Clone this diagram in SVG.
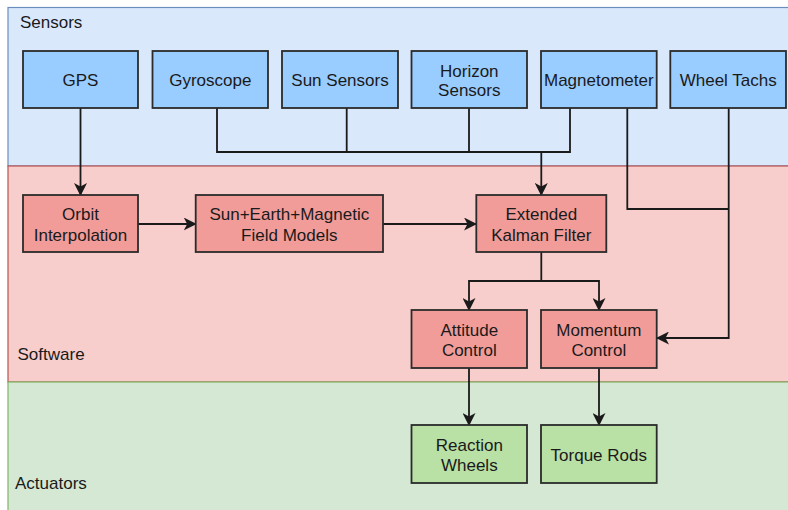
<svg xmlns="http://www.w3.org/2000/svg" width="788" height="510" viewBox="0 0 788 510">
<style>
text{font-family:"Liberation Sans",Arial,sans-serif;font-size:17px;fill:#1a1a1a}
.n text{text-anchor:middle}
.node{stroke:#2b2b2b;stroke-width:1.8}
.sen{fill:#99ccff}
.sw{fill:#f19c99}
.act{fill:#b9e0a5}
.c{fill:none;stroke:#1a1a1a;stroke-width:1.8}
</style>
<defs>
<marker id="ah" viewBox="0 0 13 13" refX="12" refY="6.5" markerWidth="13" markerHeight="13" markerUnits="userSpaceOnUse" orient="auto">
<path d="M0,0 L13,6.5 L0,13 L3.5,6.5 Z" fill="#1a1a1a"/>
</marker>
</defs>
<rect width="788" height="510" fill="#fff"/>
<g id="lanes">
<rect x="8" y="7.5" width="790" height="158.5" fill="#dae8fc" stroke="#6c8ebf" stroke-width="1.2"/>
<rect x="8" y="166" width="790" height="216" fill="#f8cecc" stroke="#b85450" stroke-width="1.2"/>
<rect x="8" y="382" width="790" height="140" fill="#d5e8d4" stroke="#82b366" stroke-width="1.2"/>
<text x="20" y="28">Sensors</text>
<text x="17.5" y="360">Software</text>
<text x="15" y="489">Actuators</text>
</g>
<g id="connectors">
<path class="c" d="M80.5,108 V195" marker-end="url(#ah)"/>
<path class="c" d="M217,108 V152 H570 V108"/>
<path class="c" d="M346.7,108 V152"/>
<path class="c" d="M469,108 V152"/>
<path class="c" d="M541.3,152 V195" marker-end="url(#ah)"/>
<path class="c" d="M627.3,108 V209 H728.7"/>
<path class="c" d="M728.7,108 V338 H657" marker-end="url(#ah)"/>
<path class="c" d="M138,224 H195.7" marker-end="url(#ah)"/>
<path class="c" d="M383,224 H476" marker-end="url(#ah)"/>
<path class="c" d="M541.3,252 V281 H469 V310" marker-end="url(#ah)"/>
<path class="c" d="M541.3,281 H599 V310" marker-end="url(#ah)"/>
<path class="c" d="M469,368 V425" marker-end="url(#ah)"/>
<path class="c" d="M599,368 V425" marker-end="url(#ah)"/>
</g>
<g id="gps" class="n"><rect class="node sen" x="23" y="51" width="115" height="57"/><text x="80.5" y="86">GPS</text></g>
<g id="gyroscope" class="n"><rect class="node sen" x="152.5" y="51" width="115.5" height="57"/><text x="210.3" y="86">Gyroscope</text></g>
<g id="sun-sensors" class="n"><rect class="node sen" x="282" y="51" width="116" height="57"/><text x="340" y="86">Sun Sensors</text></g>
<g id="horizon-sensors" class="n"><rect class="node sen" x="411.5" y="51" width="115.5" height="57"/><text x="469.3" y="77">Horizon</text><text x="469.3" y="96">Sensors</text></g>
<g id="magnetometer" class="n"><rect class="node sen" x="541" y="51" width="115.7" height="57"/><text x="598.8" y="86">Magnetometer</text></g>
<g id="wheel-tachs" class="n"><rect class="node sen" x="670.3" y="51" width="115.7" height="57"/><text x="728.2" y="86">Wheel Tachs</text></g>
<g id="orbit-interpolation" class="n"><rect class="node sw" x="23" y="195" width="115" height="57"/><text x="80.5" y="220">Orbit</text><text x="80.5" y="241">Interpolation</text></g>
<g id="field-models" class="n"><rect class="node sw" x="195.7" y="195" width="187.3" height="57"/><text x="289.3" y="220">Sun+Earth+Magnetic</text><text x="289.3" y="241">Field Models</text></g>
<g id="ekf" class="n"><rect class="node sw" x="476.3" y="195" width="130" height="57"/><text x="541.3" y="220">Extended</text><text x="541.3" y="241">Kalman Filter</text></g>
<g id="attitude-control" class="n"><rect class="node sw" x="411.5" y="310" width="115.5" height="58"/><text x="469.3" y="336">Attitude</text><text x="469.3" y="356">Control</text></g>
<g id="momentum-control" class="n"><rect class="node sw" x="541" y="310" width="115.7" height="58"/><text x="598.8" y="336">Momentum</text><text x="598.8" y="356">Control</text></g>
<g id="reaction-wheels" class="n"><rect class="node act" x="411.5" y="425" width="115.5" height="58"/><text x="469.3" y="451">Reaction</text><text x="469.3" y="471">Wheels</text></g>
<g id="torque-rods" class="n"><rect class="node act" x="541" y="425" width="115.7" height="58"/><text x="598.8" y="461">Torque Rods</text></g>
</svg>
